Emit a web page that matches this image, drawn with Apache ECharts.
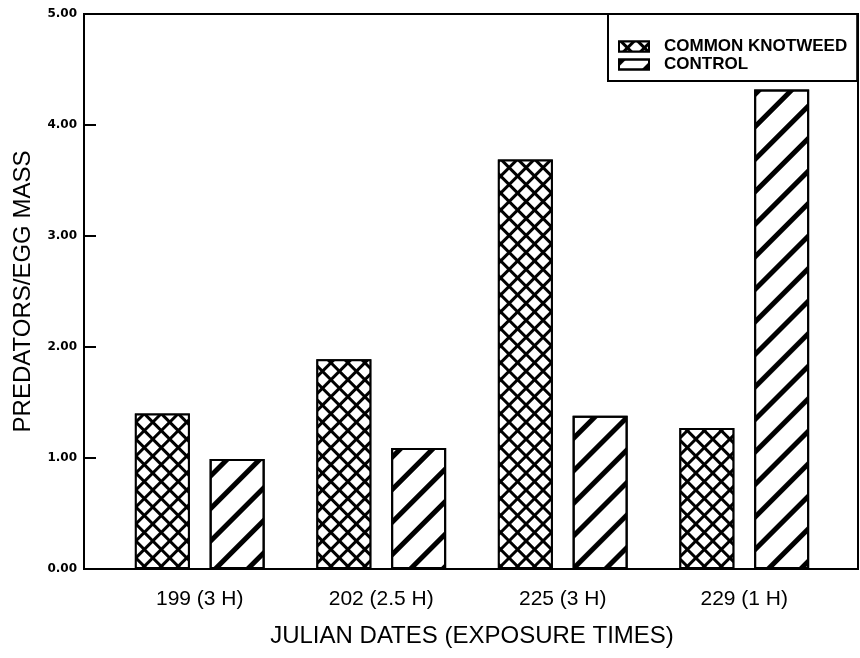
<!DOCTYPE html>
<html>
<head>
<meta charset="utf-8">
<script src="https://cdn.jsdelivr.net/npm/echarts@6/dist/echarts.min.js"></script>
<style>html,body{margin:0;padding:0;background:#fff}#c{width:860px;height:658px}</style>
</head>
<body>
<div id="c"></div>
<script>
var categories = ['199 (3 H)', '202 (2.5 H)', '225 (3 H)', '229 (1 H)'];
var knotweed = [1.40, 1.89, 3.69, 1.27];
var control = [0.99, 1.09, 1.38, 4.32];
var seriesNames = ['COMMON KNOTWEED', 'CONTROL'];
var yTicks = [0, 1, 2, 3, 4, 5];

var chart = echarts.init(document.getElementById('c'));
var nameFont = '"Liberation Sans", Arial, sans-serif';
chart.setOption({
  animation: false,
  backgroundColor: '#fff',
  grid: [
    {left: 84, right: 2, top: 14, bottom: 89, show: true, borderColor: '#000', borderWidth: 2, backgroundColor: 'transparent'},
    {left: 109, right: 25, top: 14, bottom: 89}
  ],
  xAxis: [
    {gridIndex: 0, type: 'value', show: false, min: 0, max: 1},
    {gridIndex: 1, type: 'category', data: categories,
     axisLine: {show: false}, axisTick: {show: false},
     axisLabel: {color: '#000', fontSize: 21, fontFamily: nameFont, margin: 20},
     name: 'JULIAN DATES (EXPOSURE TIMES)', nameLocation: 'middle', nameGap: 55,
     nameTextStyle: {color: '#000', fontSize: 24, fontFamily: nameFont}}
  ],
  yAxis: [
    {gridIndex: 0, type: 'value', min: 0, max: 5, interval: 1,
     axisLine: {show: true, lineStyle: {color: '#000', width: 2}},
     axisTick: {show: true, inside: true, length: 12, lineStyle: {color: '#000', width: 2}},
     splitLine: {show: false},
     axisLabel: {color: '#000', fontSize: 12, fontWeight: 'bold', fontFamily: '"DejaVu Sans", sans-serif', margin: 7,
       formatter: function (v) { return v.toFixed(2); }},
     name: 'PREDATORS/EGG MASS', nameLocation: 'middle', nameGap: 49,
     nameTextStyle: {color: '#000', fontSize: 24, fontFamily: nameFont}},
    {gridIndex: 1, type: 'value', min: 0, max: 5, show: false}
  ],
  legend: {
    orient: 'vertical', left: 608, top: 14,
    padding: [24, 10, 8, 10], itemGap: 1,
    itemWidth: 30, itemHeight: 10, icon: 'rect',
    borderColor: '#000', borderWidth: 2, backgroundColor: '#fff',
    textStyle: {color: '#000', fontSize: 17, fontWeight: 'bold', fontFamily: '"Liberation Sans", Arial, sans-serif', padding: [0, 0, 0, 10]},
    data: seriesNames
  },
  series: [
    {name: seriesNames[0], type: 'bar', xAxisIndex: 1, yAxisIndex: 1, data: knotweed,
     barWidth: 55, barGap: '36%',
     itemStyle: {color: '#000', borderColor: '#000', borderWidth: 2,
       decal: {symbol: 'rect', color: '#fff', dashArrayX: [9, 3], dashArrayY: [9, 3], rotation: Math.PI / 4, symbolSize: 1}}},
    {name: seriesNames[1], type: 'bar', xAxisIndex: 1, yAxisIndex: 1, data: control,
     barWidth: 55,
     itemStyle: {color: '#fff', borderColor: '#000', borderWidth: 2,
       decal: {symbol: 'rect', color: '#000', dashArrayX: [1, 0], dashArrayY: [5, 18], rotation: -Math.PI / 4, symbolSize: 1}}}
  ]
});
</script>
</body>
</html>
